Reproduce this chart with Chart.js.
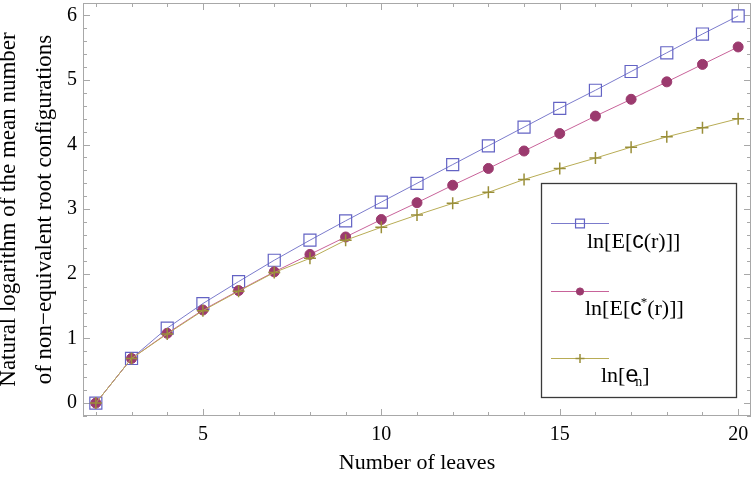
<!DOCTYPE html>
<html><head><meta charset="utf-8">
<script src="https://cdn.jsdelivr.net/npm/chart.js@4/dist/chart.umd.min.js"></script>
<style>html,body{margin:0;padding:0;background:#fff}#wrap{width:754px;height:479px;position:relative}</style>
</head><body><div id="wrap"><canvas id="c" width="754" height="479"></canvas></div>
<script>
// ---- data ----
const leaves = [2,3,4,5,6,7,8,9,10,11,12,13,14,15,16,17,18,19,20];
const lnEc     = [0, 0.69, 1.16, 1.54, 1.88, 2.21, 2.52, 2.82, 3.11, 3.40, 3.69, 3.98, 4.27, 4.56, 4.84, 5.13, 5.42, 5.71, 5.99];
const lnEcStar = [0, 0.69, 1.08, 1.44, 1.74, 2.03, 2.30, 2.57, 2.84, 3.10, 3.37, 3.63, 3.90, 4.17, 4.44, 4.70, 4.97, 5.24, 5.51];
const lnEn     = [0, 0.69, 1.07, 1.43, 1.73, 2.02, 2.24, 2.52, 2.72, 2.91, 3.09, 3.26, 3.46, 3.63, 3.79, 3.96, 4.12, 4.26, 4.40];
const xTickValues = [5, 10, 15, 20];
const xMinorTicks = [2,3,4,5,6,7,8,9,10,11,12,13,14,15,16,17,18,19,20];
const yTickValues = [0, 1, 2, 3, 4, 5, 6];
const xTitle = 'Number of leaves';
const yTitle = ['Natural logarithm of the mean number', 'of non\u2212equivalent root configurations'];
const legendLabels = [
  [['ln[E[','serif'],['c','sans'],['(r)]]','serif']],
  [['ln[E[','serif'],['c','sans'],['*','sup'],['(r)]]','serif']],
  [['ln[','serif'],['e','sans'],['n','sub'],[']','serif']]
];

const SERIF = '"Liberation Serif", "Times New Roman", serif';
const SANS = '"Liberation Sans", Arial, sans-serif';

const styles = [
  {line:'#7b7bcc', pt:'#6363c4', fill:'rgba(0,0,0,0)', style:'rect', r:8.5, bw:1.2, lr:6.3},
  {line:'#c8639a', pt:'#9b3a6e', fill:'#9b3a6e', style:'circle', r:5, bw:1, lr:3.6},
  {line:'#b8ac55', pt:'#9a8f3a', fill:'#9a8f3a', style:'cross', r:6, bw:1.5, lr:4.5}
];
const seriesData = [lnEc, lnEcStar, lnEn];

const datasets = seriesData.map((d, i) => ({
  data: leaves.map((x, j) => ({x, y: d[j]})),
  borderColor: styles[i].line,
  borderWidth: 1,
  pointStyle: styles[i].style,
  pointRadius: styles[i].r,
  pointBorderColor: styles[i].pt,
  pointBackgroundColor: styles[i].fill,
  pointBorderWidth: styles[i].bw,
  order: 3 - i,
  tension: 0,
  clip: 12
}));

const framePlugin = {
  id: 'frame',
  beforeDatasetsDraw(chart) {
    const {ctx, chartArea: a, scales: {x, y}} = chart;
    ctx.save();
    ctx.strokeStyle = '#a8a8a8';
    ctx.lineWidth = 1;
    ctx.strokeRect(a.left + 0.5, a.top + 0.5, a.right - a.left - 1, a.bottom - a.top - 1);
    ctx.beginPath();
    xMinorTicks.forEach(v => {
      const px = Math.round(x.getPixelForValue(v)) + 0.5;
      const len = xTickValues.includes(v) ? 7 : 4;
      ctx.moveTo(px, a.bottom); ctx.lineTo(px, a.bottom - len);
      ctx.moveTo(px, a.top); ctx.lineTo(px, a.top + len);
    });
    for (let k = -1; k <= 31; k++) {
      const v = k / 5;
      if (v < y.min || v > y.max) continue;
      const py = Math.round(y.getPixelForValue(v)) + 0.5;
      const len = (k % 5 === 0) ? 7 : 4;
      ctx.moveTo(a.left, py); ctx.lineTo(a.left + len, py);
      ctx.moveTo(a.right, py); ctx.lineTo(a.right - len, py);
    }
    ctx.stroke();
    ctx.restore();
  },
  afterDraw(chart) {
    const {ctx} = chart;
    ctx.save();
    ctx.fillStyle = '#fff';
    ctx.fillRect(541, 183, 195, 214);
    ctx.strokeStyle = '#3a3a3a';
    ctx.lineWidth = 1.3;
    ctx.strokeRect(541.5, 183.5, 195, 214);
    const lineYs = [223, 291, 358];
    const textX = [587, 585, 601];
    const baseY = [248, 315, 382];
    const size = 22;
    styles.forEach((s, i) => {
      ctx.strokeStyle = s.line; ctx.lineWidth = 1;
      ctx.beginPath(); ctx.moveTo(551, lineYs[i] + 0.5); ctx.lineTo(609, lineYs[i] + 0.5); ctx.stroke();
      ctx.strokeStyle = s.pt; ctx.fillStyle = s.fill; ctx.lineWidth = s.bw;
      Chart.helpers.drawPoint(ctx, {pointStyle: s.style, radius: s.lr, borderWidth: s.bw}, 580, lineYs[i] + 0.5);
      ctx.fillStyle = '#000';
      ctx.textBaseline = 'alphabetic';
      ctx.textAlign = 'left';
      let cx = textX[i];
      legendLabels[i].forEach(([t, kind]) => {
        let dy = 0;
        if (kind === 'serif') ctx.font = size + 'px ' + SERIF;
        else if (kind === 'sans') ctx.font = (size + 1) + 'px ' + SANS;
        else if (kind === 'sup') { ctx.font = Math.round(size * 0.6) + 'px ' + SERIF; dy = -size * 0.42; cx -= 1; }
        else if (kind === 'sub') { ctx.font = Math.round(size * 0.65) + 'px ' + SERIF; dy = size * 0.18; cx -= 3; }
        ctx.fillText(t, cx, baseY[i] + dy);
        cx += ctx.measureText(t).width;
      });
    });
    ctx.restore();
  }
};

new Chart(document.getElementById('c'), {
  type: 'line',
  data: {datasets},
  options: {
    responsive: false,
    animation: false,
    layout: {autoPadding: false, padding: {top: 3, right: 3, left: 0, bottom: 0}},
    plugins: {legend: {display: false}, tooltip: {enabled: false}},
    scales: {
      x: {
        type: 'linear', min: 1.64, max: 20.36,
        afterFit: s => { s.height = 63; s.paddingLeft = 0; s.paddingRight = 0; },
        afterBuildTicks: s => { s.ticks = xTickValues.map(v => ({value: v})); },
        grid: {display: false, drawTicks: false},
        border: {display: false},
        ticks: {color: '#000', padding: 7, maxRotation: 0, autoSkip: false, font: {family: SERIF, size: 20}},
        title: {display: true, text: xTitle, color: '#000', font: {family: SERIF, size: 22}, padding: {top: 0, bottom: 3}}
      },
      y: {
        type: 'linear', min: -0.2, max: 6.19,
        afterFit: s => { s.width = 83; s.paddingTop = 0; s.paddingBottom = 0; },
        afterBuildTicks: s => { s.ticks = yTickValues.map(v => ({value: v})); },
        grid: {display: false, drawTicks: false},
        border: {display: false},
        ticks: {color: '#000', padding: 6, autoSkip: false, font: {family: SERIF, size: 20}},
        title: {display: true, text: yTitle, color: '#000', font: {family: SERIF, size: 23, lineHeight: 36/23}, padding: {top: -8.8, bottom: 0}}
      }
    }
  },
  plugins: [framePlugin]
});
</script>
</body></html>
